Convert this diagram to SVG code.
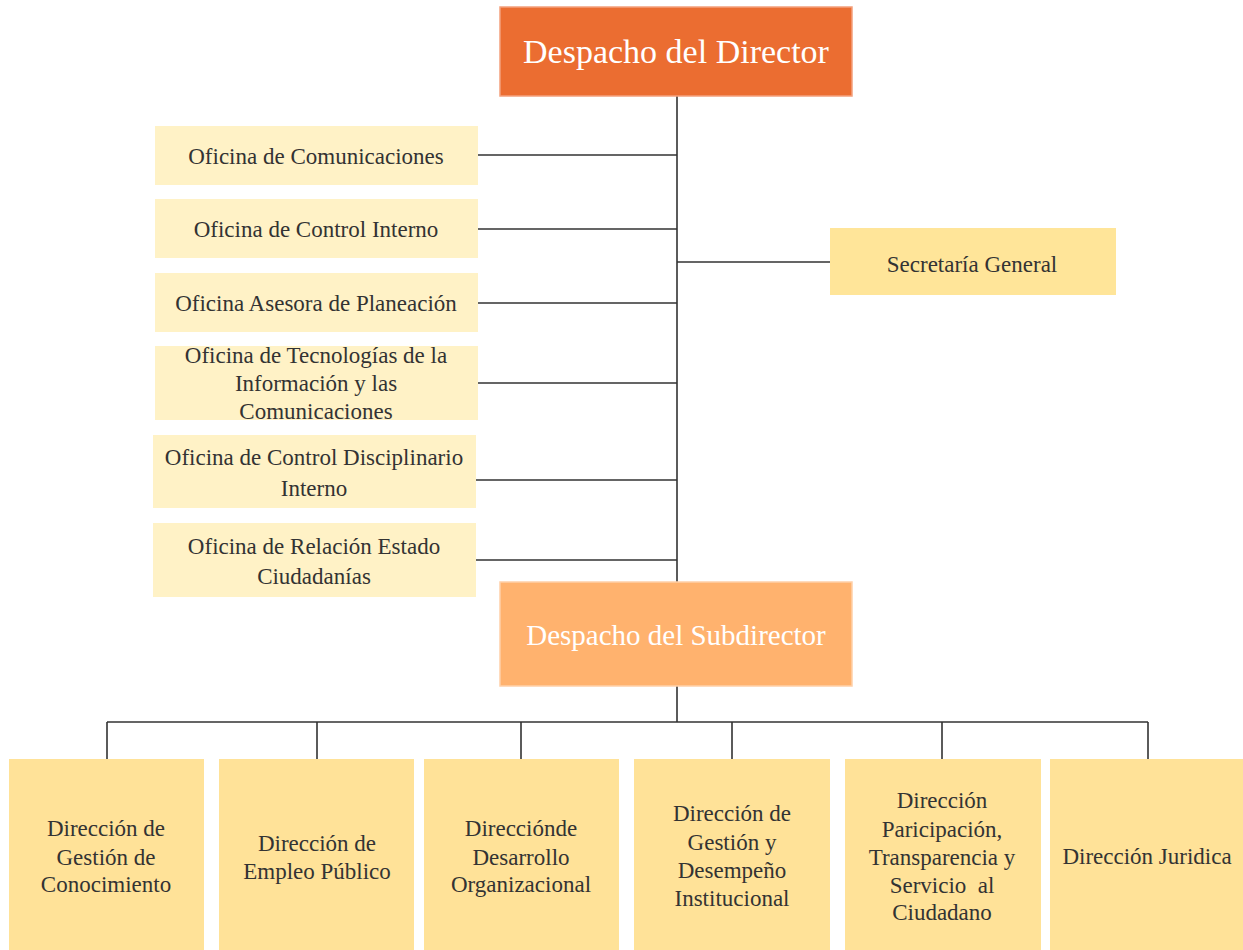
<svg xmlns="http://www.w3.org/2000/svg" width="1243" height="950" viewBox="0 0 1243 950">
<style>
text{font-family:"Liberation Serif","Times New Roman",serif;text-anchor:middle}
.t{font-size:23px;fill:#333}
.h{fill:#ffffff}
.off{fill:#FFF2C6}
.dir{fill:#FFE298}
.sec{fill:#FFE599}
.ln{stroke:#333;stroke-width:1.6;fill:none}
</style>
<rect width="1243" height="950" fill="#fff"/>
<g id="connectors">
<path class="ln" d="M677 96V582M677 686V722M107 722H1148M107 722V759M317 722V759M521 722V759M732 722V759M942 722V759M1148 722V759"/>
<path class="ln" d="M478 155H677M478 229H677M478 303H677M478 383H677M476 480H677M476 560H677M677 262H830"/>
</g>
<g id="director"><rect x="500" y="7" width="352" height="89" fill="#EB6D31" stroke="#F4A07C" stroke-width="1.5"/><text class="h" x="676" y="63" style="font-size:34px">Despacho del Director</text></g>
<g id="of1"><rect class="off" x="155" y="126" width="323" height="59"/><text class="t" x="316" y="164">Oficina de Comunicaciones</text></g>
<g id="of2"><rect class="off" x="155" y="199" width="323" height="59"/><text class="t" x="316" y="237">Oficina de Control Interno</text></g>
<g id="of3"><rect class="off" x="155" y="273" width="323" height="59"/><text class="t" x="316" y="311">Oficina Asesora de Planeación</text></g>
<g id="of4"><rect class="off" x="155" y="346" width="323" height="74"/><text class="t" x="316"><tspan x="316" y="363">Oficina de Tecnologías de la</tspan><tspan x="316" y="391">Información y las</tspan><tspan x="316" y="419">Comunicaciones</tspan></text></g>
<g id="of5"><rect class="off" x="153" y="435" width="323" height="73"/><text class="t"><tspan x="314" y="465">Oficina de Control Disciplinario</tspan><tspan x="314" y="496">Interno</tspan></text></g>
<g id="of6"><rect class="off" x="153" y="523" width="323" height="74"/><text class="t"><tspan x="314" y="554">Oficina de Relación Estado</tspan><tspan x="314" y="584">Ciudadanías</tspan></text></g>
<g id="secretaria"><rect class="sec" x="830" y="228" width="286" height="67"/><text class="t" x="972" y="272">Secretaría General</text></g>
<g id="subdirector"><rect x="500" y="582" width="352" height="104" fill="#FFB26E" stroke="#FFD0A8" stroke-width="1.5"/><text class="h" x="676" y="645" style="font-size:29px">Despacho del Subdirector</text></g>
<g id="d1"><rect class="dir" x="9" y="759" width="195" height="191"/><text class="t"><tspan x="106" y="836">Dirección de</tspan><tspan x="106" y="865">Gestión de</tspan><tspan x="106" y="892">Conocimiento</tspan></text></g>
<g id="d2"><rect class="dir" x="219" y="759" width="195" height="191"/><text class="t"><tspan x="317" y="851">Dirección de</tspan><tspan x="317" y="879">Empleo Público</tspan></text></g>
<g id="d3"><rect class="dir" x="424" y="759" width="195" height="191"/><text class="t"><tspan x="521" y="836">Direcciónde</tspan><tspan x="521" y="865">Desarrollo</tspan><tspan x="521" y="892">Organizacional</tspan></text></g>
<g id="d4"><rect class="dir" x="634" y="759" width="196" height="191"/><text class="t"><tspan x="732" y="821">Dirección de</tspan><tspan x="732" y="850">Gestión y</tspan><tspan x="732" y="878">Desempeño</tspan><tspan x="732" y="906">Institucional</tspan></text></g>
<g id="d5"><rect class="dir" x="845" y="759" width="196" height="191"/><text class="t"><tspan x="942" y="808">Dirección</tspan><tspan x="942" y="837">Paricipación,</tspan><tspan x="942" y="865">Transparencia y</tspan><tspan x="942" y="893" xml:space="preserve">Servicio  al</tspan><tspan x="942" y="920">Ciudadano</tspan></text></g>
<g id="d6"><rect class="dir" x="1050" y="759" width="193" height="191"/><text class="t" x="1147" y="864">Dirección Juridica</text></g>
</svg>
